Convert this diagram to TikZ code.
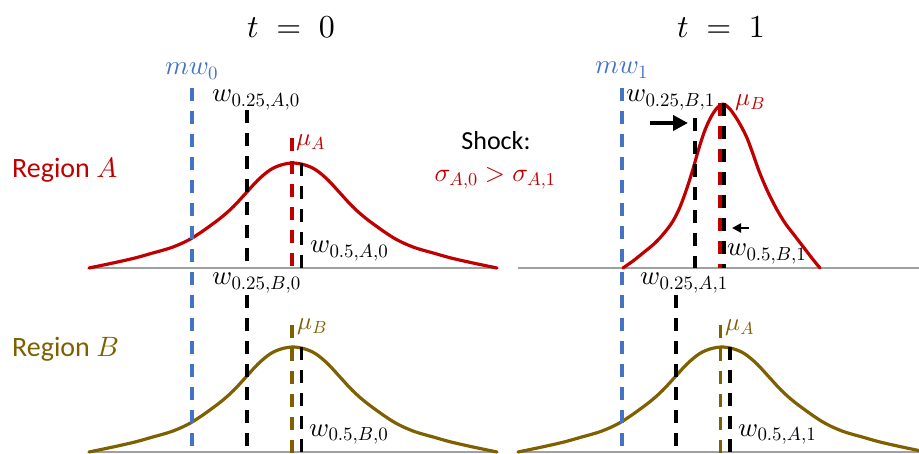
\documentclass[tikz,border=0pt]{standalone}
\usepackage{fontspec}
\DeclareFontShape{OML}{cmm}{m}{it}{<-> cmmi10}{}
\DeclareFontShape{OMS}{cmsy}{m}{n}{<-> cmsy10}{}
\DeclareFontShape{OT1}{cmr}{m}{n}{<-> cmr10}{}
\newfontfamily\calib{Carlito}
\usetikzlibrary{arrows.meta}
\definecolor{cred}{HTML}{C00000}
\definecolor{colive}{HTML}{7F6000}
\definecolor{cblue}{HTML}{4472C4}
\definecolor{caxis}{HTML}{A0A0A0}
\tikzset{
  bellline/.style={line width=3.2pt, line join=round, line cap=round},
  vdash/.style={line width=3.2pt, dash pattern=on 13pt off 10pt},
  axisline/.style={caxis, line width=1.3pt},
  lbl/.style={anchor=base west, inner sep=0pt, font=\fontsize{27}{31}\selectfont},
  mulbl/.style={anchor=base west, inner sep=0pt, font=\fontsize{25}{29}\selectfont},
  ttl/.style={anchor=base, inner sep=0pt, font=\fontsize{32}{36}\selectfont},
  regionlbl/.style={anchor=base west, inner sep=0pt, font=\calib\fontsize{28}{32}\selectfont},
  shocklbl/.style={anchor=base, inner sep=0pt, font=\calib\fontsize{26}{30}\selectfont},
  bigarrow/.style={line width=4.2pt, -{Triangle[length=15pt,width=15pt]}},
  smallarrow/.style={line width=2.8pt, -{Triangle[length=9pt,width=9pt]}},
  pics/widebell/.style={code={
    \draw[bellline,#1] plot[smooth, tension=0.55] coordinates {(-204,0) (-180,5) (-158,10) (-142,14.5) (-120,21) (-100,30.5) (-75,48) (-60,61) (-47,75) (-35,88) (-23,98) (-12,103) (0,105) (12,103) (23,98) (35,88) (47,75) (60,61) (75,48) (100,30.5) (120,21) (142,14.5) (158,10) (180,5) (204,0)};
  }},
  pics/narrowbell/.style={code={
    \draw[bellline,#1] plot[smooth, tension=0.55] coordinates {(-100,0) (-90,7) (-80,15) (-68,25) (-58,36) (-50,47) (-43,61) (-36,80) (-30,99) (-24,120) (-18,138) (-12,151) (-6,160) (0,164) (6,160) (12,152) (18,142) (24,130) (30,114) (36,97) (44,78) (53,60) (62,45) (70,34.5) (80,21.5) (90,8.5) (97,0)};
  }}
}
\begin{document}
\begin{tikzpicture}[x=1pt,y=1pt]
\useasboundingbox (0,0) rectangle (919,453);
\clip (0,0) rectangle (919,453);

% axes
\draw[axisline] (90,185) -- (498,185);
\draw[axisline] (518,185) -- (919,185);
\draw[axisline] (90,1) -- (498,1);
\draw[axisline] (518,1) -- (919,1);

% curves
\pic at (293,185) {widebell=cred};
\pic at (293,1) {widebell=colive};
\pic at (722,1) {widebell=colive};
\pic at (723,185) {narrowbell=cred};

% blue dashed mw lines
\draw[vdash,cblue] (192,365) -- (192,0);
\draw[vdash,cblue] (622,365) -- (622,0);

% t=0 region A
\draw[vdash,black] (247,343) -- (247,185);
\draw[vdash,cred] (292,315) -- (292,185);
\draw[vdash,black] (301.5,290) -- (301.5,185);
% t=0 region B
\draw[vdash,black] (247,158) -- (247,0);
\draw[vdash,colive] (292,128) -- (292,0);
\draw[vdash,black] (301.5,106) -- (301.5,0);
% t=1 region A (top)
\draw[vdash,black] (695,335) -- (695,185);
\draw[vdash,cred] (720,350) -- (720,185);
\draw[vdash,black] (724,350) -- (724,185);
% t=1 region B (bottom)
\draw[vdash,black] (676,158) -- (676,0);
\draw[vdash,colive] (720.5,128) -- (720.5,0);
\draw[vdash,black] (730,106) -- (730,0);

% arrows
\coordinate (a1s) at (650,330);
\coordinate (a1e) at (688,330);
\coordinate (a2s) at (749,225);
\coordinate (a2e) at (732,225);
\draw[bigarrow] (a1s) -- (a1e);
\draw[smallarrow] (a2s) -- (a2e);

% titles
\node[ttl] (t0) at (291,415) {$t\;=\;0$};
\node[ttl] (t1) at (721,415) {$t\;=\;1$};

% region labels
\node[regionlbl,text=cred] (ra) at (12,275) {Region $A$};
\node[regionlbl,text=colive] (rb) at (12,96) {Region $B$};

% shock
\node[shocklbl] (shock) at (496,303) {Shock:};
\node[anchor=base, inner sep=0pt, font=\fontsize{26}{30}\selectfont, text=cred] (sig) at (495,271) {$\sigma_{A,0} > \sigma_{A,1}$};

% labels t=0
\node[lbl,text=cblue] (mw0) at (165,378) {$mw_0$};
\node[lbl] (q25a0) at (212,351) {$w_{0.25,A,0}$};
\node[mulbl,text=cred] (mua0) at (296,307) {$\mu_A$};
\node[lbl] (q5a0) at (310,200) {$w_{0.5,A,0}$};
\node[lbl] (q25b0) at (212,168) {$w_{0.25,B,0}$};
\node[mulbl,text=colive] (mub0) at (297,123) {$\mu_B$};
\node[lbl] (q5b0) at (309,17) {$w_{0.5,B,0}$};
% labels t=1
\node[lbl,text=cblue] (mw1) at (595,379) {$mw_1$};
\node[lbl] (q25b1) at (626,351) {$w_{0.25,B,1}$};
\node[mulbl,text=cred] (mub1) at (735,347) {$\mu_B$};
\node[lbl] (q5b1) at (727,197) {$w_{0.5,B,1}$};
\node[lbl] (q25a1) at (640,168) {$w_{0.25,A,1}$};
\node[mulbl,text=colive] (mua1) at (725,122) {$\mu_A$};
\node[lbl] (q5a1) at (738,17) {$w_{0.5,A,1}$};
\end{tikzpicture}
\end{document}
